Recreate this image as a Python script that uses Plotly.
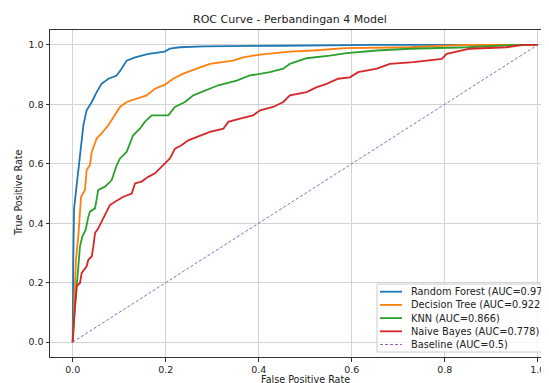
import plotly.graph_objects as go

# ---------------- data ----------------
model_names = ["Random Forest", "Decision Tree", "KNN", "Naive Bayes"]
model_auc = [0.972, 0.922, 0.866, 0.778]
model_colors = ["#1f77b4", "#ff7f0e", "#2ca02c", "#d62728"]

rf_fpr = [0, 0, 0.001, 0.003, 0.005, 0.0107, 0.0157, 0.023, 0.030, 0.041, 0.0516, 0.062, 0.0767,
          0.0946, 0.105, 0.116, 0.134, 0.163, 0.198, 0.209, 0.230, 0.281, 0.446, 0.646, 1.0]
rf_tpr = [0, 0.14, 0.25, 0.45, 0.478, 0.579, 0.645, 0.73, 0.78, 0.808, 0.841, 0.869, 0.886,
          0.897, 0.92, 0.947, 0.958, 0.970, 0.9775, 0.987, 0.992, 0.995, 0.997, 1.0, 1.0]

dt_fpr = [0, 0.001, 0.0035, 0.007, 0.012, 0.0157, 0.018, 0.0265, 0.030, 0.037, 0.041, 0.0516,
          0.062, 0.0767, 0.091, 0.1017, 0.116, 0.1376, 0.159, 0.177, 0.1985, 0.216, 0.238, 0.267,
          0.295, 0.345, 0.367, 0.403, 0.467, 0.517, 0.586, 0.725, 0.84, 1.0]
dt_tpr = [0, 0.02, 0.143, 0.277, 0.355, 0.434, 0.489, 0.512, 0.579, 0.595, 0.64, 0.685,
          0.702, 0.73, 0.763, 0.791, 0.808, 0.819, 0.830, 0.8525, 0.866, 0.886, 0.903, 0.92,
          0.936, 0.947, 0.958, 0.9675, 0.9775, 0.981, 0.989, 0.992, 1.0, 1.0]

knn_fpr = [0, 0.001, 0.005, 0.0107, 0.0157, 0.0207, 0.028, 0.0337, 0.037, 0.048, 0.055, 0.0695,
           0.0839, 0.0946, 0.1017, 0.116, 0.130, 0.1447, 0.155, 0.170, 0.2056, 0.22, 0.2415,
           0.2594, 0.288, 0.313, 0.3527, 0.381, 0.424, 0.453, 0.467, 0.503, 0.553, 0.589, 0.654,
           0.725, 0.85, 0.955, 1.0]
knn_tpr = [0, 0.05, 0.121, 0.221, 0.322, 0.355, 0.378, 0.422, 0.439, 0.450, 0.512, 0.523,
           0.545, 0.595, 0.618, 0.64, 0.696, 0.718, 0.741, 0.763, 0.763, 0.791, 0.808,
           0.830, 0.847, 0.864, 0.880, 0.897, 0.908, 0.92, 0.936, 0.955, 0.964, 0.972, 0.981,
           0.987, 0.992, 1.0, 1.0]

nb_fpr = [0, 0.002, 0.005, 0.0086, 0.0157, 0.0194, 0.030, 0.0337, 0.041, 0.0444, 0.048, 0.055,
          0.0624, 0.073, 0.080, 0.091, 0.109, 0.127, 0.134, 0.148, 0.1626, 0.177, 0.191, 0.209,
          0.22, 0.234, 0.2486, 0.2667, 0.295, 0.324, 0.3347, 0.36, 0.388, 0.403, 0.431, 0.453,
          0.467, 0.503, 0.525, 0.546, 0.571, 0.596, 0.614, 0.654, 0.682, 0.733, 0.794, 0.804,
          0.854, 0.933, 0.969, 1.0]
nb_tpr = [0, 0.06, 0.121, 0.188, 0.199, 0.233, 0.255, 0.277, 0.288, 0.322, 0.367, 0.383,
          0.405, 0.439, 0.461, 0.472, 0.489, 0.50, 0.534, 0.540, 0.556, 0.568, 0.59, 0.618,
          0.651, 0.662, 0.679, 0.690, 0.707, 0.718, 0.741, 0.752, 0.763, 0.780, 0.791, 0.808,
          0.830, 0.841, 0.858, 0.869, 0.886, 0.891, 0.908, 0.92, 0.936, 0.942, 0.953, 0.970,
          0.987, 0.992, 1.0, 1.0]

baseline_x = [0, 1]
baseline_y = [0, 1]
baseline_name = "Baseline"
baseline_auc = 0.5
baseline_color = "#9467bd"

tick_vals = [0.0, 0.2, 0.4, 0.6, 0.8, 1.0]
tick_text = ["0.0", "0.2", "0.4", "0.6", "0.8", "1.0"]

title_text = "ROC Curve - Perbandingan 4 Model"
x_label = "False Positive Rate"
y_label = "True Positive Rate"

# ---------------- figure ----------------
# The page body has an 8px default margin, so the figure is laid out 8px up/left
# of where it should appear in the browser window.
OFF = 8
W, H = 541, 375
ML, MR, MT, MB = 42, 0, 22, 26
FONT = "DejaVu Sans"

curves = [(rf_fpr, rf_tpr), (dt_fpr, dt_tpr), (knn_fpr, knn_tpr), (nb_fpr, nb_tpr)]

fig = go.Figure()
for (fx, ty), name, auc, col in zip(curves, model_names, model_auc, model_colors):
    fig.add_trace(go.Scatter(x=fx, y=ty, mode="lines", name=f"{name} (AUC={auc})",
                             line=dict(color=col, width=1.8), showlegend=False))
fig.add_trace(go.Scatter(x=baseline_x, y=baseline_y, mode="lines",
                         name=f"{baseline_name} (AUC={baseline_auc})",
                         line=dict(color=baseline_color, width=1, dash="3px,2px"),
                         showlegend=False))

pw = W - ML - MR
ph = H - MT - MB


def px_x(px):
    """screen x pixel (window coords) -> paper x"""
    return (px - OFF - ML) / pw


def px_y(py):
    """screen y pixel (window coords) -> paper y"""
    return (H - MB - (py - OFF)) / ph


shapes = []
annotations = []

# legend (drawn manually to match the reference placement)
leg_left, leg_right, leg_top, leg_bot = 377, 565, 284, 352
shapes.append(dict(type="rect", xref="paper", yref="paper", layer="above",
                   x0=px_x(leg_left), x1=px_x(leg_right), y0=px_y(leg_bot), y1=px_y(leg_top),
                   line=dict(color="#cccccc", width=1), fillcolor="rgba(255,255,255,0.8)"))
row_y = [291.7, 304.9, 318.1, 331.3, 344.5]
leg_labels = [f"{n} (AUC={a})" for n, a in zip(model_names, model_auc)] + \
             [f"{baseline_name} (AUC={baseline_auc})"]
leg_colors = model_colors + [baseline_color]
for i, (lab, col, ry) in enumerate(zip(leg_labels, leg_colors, row_y)):
    is_base = i == len(leg_labels) - 1
    shapes.append(dict(type="line", xref="paper", yref="paper", layer="above",
                       x0=px_x(380), x1=px_x(402), y0=px_y(ry), y1=px_y(ry),
                       line=dict(color=col, width=1 if is_base else 1.8,
                                 dash="3px,2px" if is_base else "solid")))
    annotations.append(dict(text=lab, xref="paper", yref="paper", x=px_x(409), y=px_y(ry),
                            xanchor="left", yanchor="middle", showarrow=False,
                            font=dict(family=FONT, size=9.8, color="#222222")))

# title and axis labels
annotations.append(dict(text=title_text, xref="paper", yref="paper", x=px_x(290), y=px_y(19.5),
                        xanchor="center", yanchor="middle", showarrow=False,
                        font=dict(family=FONT, size=11, color="#222222")))
annotations.append(dict(text=x_label, xref="paper", yref="paper", x=px_x(305), y=px_y(379.5),
                        xanchor="center", yanchor="middle", showarrow=False,
                        font=dict(family=FONT, size=9.6, color="#222222")))
annotations.append(dict(text=y_label, xref="paper", yref="paper", x=px_x(18), y=px_y(193),
                        xanchor="center", yanchor="middle", showarrow=False, textangle=-90,
                        font=dict(family=FONT, size=9.6, color="#222222")))

axis_common = dict(tickvals=tick_vals, ticktext=tick_text, showgrid=True,
                   gridcolor="#d3d3d3", gridwidth=1, zeroline=False,
                   showline=True, linecolor="#333333", linewidth=1,
                   ticks="outside", ticklen=3.5, tickcolor="#333333", tickwidth=1,
                   tickfont=dict(family=FONT, size=9.5, color="#222222"))

# x range: screen px 50 -> -0.0488, 465 px per unit
x_right = -0.0488 + pw / 465.0

fig.update_layout(
    width=W, height=H,
    margin=dict(l=ML, r=MR, t=MT, b=MB, pad=0),
    paper_bgcolor="white", plot_bgcolor="white",
    xaxis=dict(range=[-0.0488, x_right], mirror=True, **axis_common),
    yaxis=dict(range=[-0.05, 1.05], mirror=False, **axis_common),
    shapes=shapes, annotations=annotations,
    showlegend=False,
)

fig.write_html("out.html")
